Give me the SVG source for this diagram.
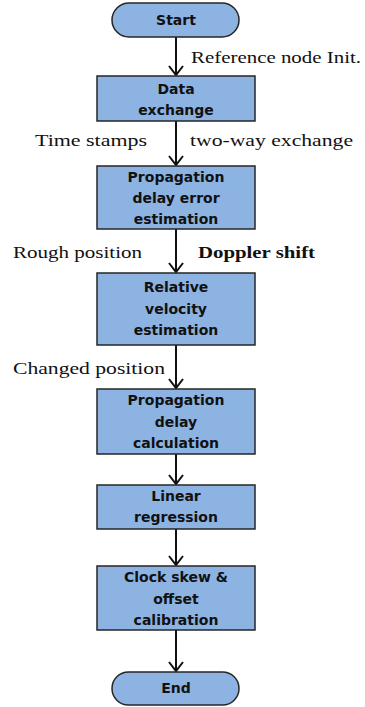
<svg xmlns="http://www.w3.org/2000/svg" width="365" height="707" viewBox="0 0 365 707">
<style>
.box{fill:#8DB3E2;stroke:#262626;stroke-width:1.5}
.bt{font-family:"DejaVu Sans",sans-serif;font-weight:bold;font-size:14px;fill:#111;text-anchor:middle}
.lb{font-family:"Liberation Serif",serif;font-size:17px;fill:#111}
.cn{stroke:#111;stroke-width:2;fill:none}
</style>
<defs>
<marker id="ah" markerUnits="userSpaceOnUse" markerWidth="16" markerHeight="18" refX="10" refY="9" orient="auto">
<path d="M1,2 L10,9 L1,16" fill="none" stroke="#111" stroke-width="2"/>
</marker>
</defs>
<rect width="365" height="707" fill="#fff"/>
<g id="connectors">
<line class="cn" x1="176" y1="37" x2="176" y2="75" marker-end="url(#ah)"/>
<line class="cn" x1="176" y1="121" x2="176" y2="165" marker-end="url(#ah)"/>
<line class="cn" x1="176" y1="229" x2="176" y2="272" marker-end="url(#ah)"/>
<line class="cn" x1="176" y1="345" x2="176" y2="388" marker-end="url(#ah)"/>
<line class="cn" x1="176" y1="454" x2="176" y2="484" marker-end="url(#ah)"/>
<line class="cn" x1="176" y1="529" x2="176" y2="565" marker-end="url(#ah)"/>
<line class="cn" x1="176" y1="630" x2="176" y2="671" marker-end="url(#ah)"/>
</g>
<g id="labels">
<text class="lb" x="191" y="63" textLength="170" lengthAdjust="spacingAndGlyphs">Reference node Init.</text>
<text class="lb" x="35" y="146" textLength="112" lengthAdjust="spacingAndGlyphs">Time stamps</text>
<text class="lb" x="190" y="146" textLength="163" lengthAdjust="spacingAndGlyphs">two-way exchange</text>
<text class="lb" x="13" y="258" textLength="129" lengthAdjust="spacingAndGlyphs">Rough position</text>
<text class="lb" x="198" y="258" font-weight="bold" textLength="117" lengthAdjust="spacingAndGlyphs">Doppler shift</text>
<text class="lb" x="13" y="374" textLength="152" lengthAdjust="spacingAndGlyphs">Changed position</text>
</g>
<g id="start">
<rect class="box" x="112" y="3" width="127" height="34" rx="17"/>
<text class="bt" x="176" y="25">Start</text>
</g>
<g id="data-exchange">
<rect class="box" x="97" y="76" width="158" height="45"/>
<text class="bt" x="176" y="94">Data</text>
<text class="bt" x="176" y="115">exchange</text>
</g>
<g id="prop-delay-error">
<rect class="box" x="97" y="166" width="158" height="63"/>
<text class="bt" x="176" y="182">Propagation</text>
<text class="bt" x="176" y="203">delay error</text>
<text class="bt" x="176" y="224">estimation</text>
</g>
<g id="relative-velocity">
<rect class="box" x="97" y="273" width="158" height="72"/>
<text class="bt" x="176" y="292">Relative</text>
<text class="bt" x="176" y="314">velocity</text>
<text class="bt" x="176" y="335">estimation</text>
</g>
<g id="prop-delay-calc">
<rect class="box" x="97" y="389" width="158" height="65"/>
<text class="bt" x="176" y="405">Propagation</text>
<text class="bt" x="176" y="427">delay</text>
<text class="bt" x="176" y="448">calculation</text>
</g>
<g id="linear-regression">
<rect class="box" x="97" y="485" width="158" height="44"/>
<text class="bt" x="176" y="501">Linear</text>
<text class="bt" x="176" y="522">regression</text>
</g>
<g id="clock-skew">
<rect class="box" x="97" y="566" width="158" height="64"/>
<text class="bt" x="176" y="582">Clock skew &amp;</text>
<text class="bt" x="176" y="604">offset</text>
<text class="bt" x="176" y="625">calibration</text>
</g>
<g id="end">
<rect class="box" x="112" y="672" width="127" height="33" rx="16.5"/>
<text class="bt" x="176" y="693">End</text>
</g>
</svg>
